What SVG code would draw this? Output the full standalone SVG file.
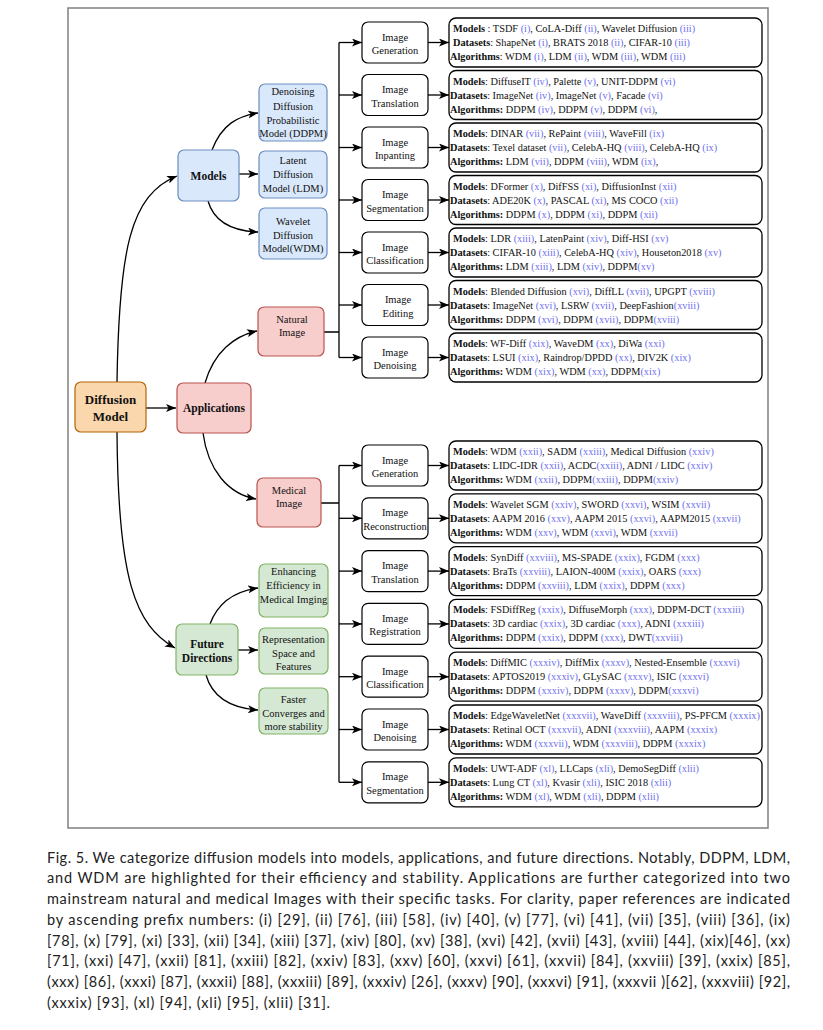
<svg xmlns="http://www.w3.org/2000/svg" width="823" height="1030" viewBox="0 0 823 1030">
<defs>
<marker id="ah" markerUnits="userSpaceOnUse" markerWidth="10" markerHeight="8" refX="10" refY="4" orient="auto">
<path d="M0,0 L10,4 L0,8 L2.5,4 z" fill="#000"/>
</marker>
</defs>
<style>
.frame{fill:none;stroke:#888;stroke-width:1.6}
.det{fill:#fff;stroke:#000;stroke-width:1.3}
.task{fill:#fff;stroke:#000;stroke-width:1.2}
.blue{fill:#dae8fc;stroke:#6c8ebf;stroke-width:1.2}
.pink{fill:#f8cecc;stroke:#b85450;stroke-width:1.2}
.orange{fill:#fad7ac;stroke:#b46504;stroke-width:1.2}
.green{fill:#d5e8d4;stroke:#82b366;stroke-width:1.2}
.t{font-family:"Liberation Serif",serif;font-size:10.3px;fill:#111}
.tk{font-family:"Liberation Serif",serif;font-size:10.5px;fill:#111;text-anchor:middle}
.nb{font-family:"Liberation Serif",serif;font-weight:bold;fill:#111;text-anchor:middle}
.b{font-weight:bold}
.r{fill:#7070ee}
.conn{fill:none;stroke:#000;stroke-width:1.3}
.arr{marker-end:url(#ah)}
.cap{font-family:Lato,"Liberation Sans",sans-serif;font-size:14.5px;fill:#222}
</style>
<rect class="frame" x="68" y="8" width="700" height="820"/>

<g id="connectors">
<path class="conn arr" d="M117,382 C119,250 130,195 177,176"/>
<path class="conn arr" d="M146,408 H176"/>
<path class="conn arr" d="M117,432 C118,580 135,625 175,648"/>
<path class="conn arr" d="M212,150 C222,124 238,116 258,113"/>
<path class="conn arr" d="M239,174 H258"/>
<path class="conn arr" d="M208,201 C214,222 232,231 258,232"/>
<path class="conn arr" d="M205,383 C214,352 234,336 257,331"/>
<path class="conn arr" d="M203,433 C208,470 228,494 256,499"/>
<path class="conn arr" d="M210,624 C218,602 236,591 258,588"/>
<path class="conn arr" d="M238,650 H258"/>
<path class="conn arr" d="M206,675 C212,696 230,708 258,710"/>
<path class="conn" d="M324,332 H339 M339,42.5 V357.5"/>
<path class="conn" d="M321,503 H339 M339,465.5 V782.3"/>
<path class="conn arr" d="M339,42.5 H362"/>
<path class="conn arr" d="M339,95 H362"/>
<path class="conn arr" d="M339,147.5 H362"/>
<path class="conn arr" d="M339,200 H362"/>
<path class="conn arr" d="M339,252.5 H362"/>
<path class="conn arr" d="M339,305 H362"/>
<path class="conn arr" d="M339,357.5 H362"/>
<path class="conn arr" d="M339,465.5 H362"/>
<path class="conn arr" d="M339,518.3 H362"/>
<path class="conn arr" d="M339,571.1 H362"/>
<path class="conn arr" d="M339,623.9 H362"/>
<path class="conn arr" d="M339,676.7 H362"/>
<path class="conn arr" d="M339,729.5 H362"/>
<path class="conn arr" d="M339,782.3 H362"/>
<path class="conn arr" d="M428,42.5 H449"/>
<path class="conn arr" d="M428,95 H449"/>
<path class="conn arr" d="M428,147.5 H449"/>
<path class="conn arr" d="M428,200 H449"/>
<path class="conn arr" d="M428,252.5 H449"/>
<path class="conn arr" d="M428,305 H449"/>
<path class="conn arr" d="M428,357.5 H449"/>
<path class="conn arr" d="M428,465.5 H449"/>
<path class="conn arr" d="M428,518.3 H449"/>
<path class="conn arr" d="M428,571.1 H449"/>
<path class="conn arr" d="M428,623.9 H449"/>
<path class="conn arr" d="M428,676.7 H449"/>
<path class="conn arr" d="M428,729.5 H449"/>
<path class="conn arr" d="M428,782.3 H449"/>
</g>

<g id="diffusion-model">
<rect class="orange" x="75" y="382" width="71" height="50" rx="6"/>
<text class="nb" font-size="13" x="110.5" y="404">Diffusion</text>
<text class="nb" font-size="13" x="110.5" y="420.5">Model</text>
</g>
<g id="models">
<rect class="blue" x="178" y="150" width="61" height="51" rx="6"/>
<text class="nb" font-size="11.5" x="208.5" y="180">Models</text>
</g>
<g id="ddpm">
<rect class="blue" x="259" y="84" width="68" height="57" rx="6"/>
<text class="tk" x="293" y="95">Denoising</text>
<text class="tk" x="293" y="109.5">Diffusion</text>
<text class="tk" x="293" y="123.5">Probabilistic</text>
<text class="tk" x="293" y="137">Model (DDPM)</text>
</g>
<g id="ldm">
<rect class="blue" x="259" y="151" width="68" height="47" rx="6"/>
<text class="tk" x="293" y="164">Latent</text>
<text class="tk" x="293" y="178">Diffusion</text>
<text class="tk" x="293" y="192">Model (LDM)</text>
</g>
<g id="wdm">
<rect class="blue" x="259" y="208" width="68" height="51" rx="6"/>
<text class="tk" x="293" y="225">Wavelet</text>
<text class="tk" x="293" y="238.5">Diffusion</text>
<text class="tk" x="293" y="252">Model(WDM)</text>
</g>
<g id="applications">
<rect class="pink" x="177" y="383" width="74" height="50" rx="6"/>
<text class="nb" font-size="11.5" x="214" y="412">Applications</text>
</g>
<g id="natural-image">
<rect class="pink" x="258" y="307" width="66" height="49" rx="6"/>
<text class="tk" x="292" y="323">Natural</text>
<text class="tk" x="292" y="336">Image</text>
</g>
<g id="medical-image">
<rect class="pink" x="257" y="478" width="64" height="49" rx="6"/>
<text class="tk" x="289" y="494">Medical</text>
<text class="tk" x="289" y="507">Image</text>
</g>
<g id="future-directions">
<rect class="green" x="176" y="624" width="62" height="51" rx="6"/>
<text class="nb" font-size="11.5" x="207" y="648">Future</text>
<text class="nb" font-size="11.5" x="207" y="661.5">Directions</text>
</g>
<g id="enhancing">
<rect class="green" x="259" y="564" width="69" height="53" rx="6"/>
<text class="tk" x="293.5" y="575">Enhancing</text>
<text class="tk" x="293.5" y="589">Efficiency in</text>
<text class="tk" x="293.5" y="603">Medical Imging</text>
</g>
<g id="representation">
<rect class="green" x="259" y="628" width="69" height="46" rx="6"/>
<text class="tk" x="293.5" y="643">Representation</text>
<text class="tk" x="293.5" y="656.5">Space and</text>
<text class="tk" x="293.5" y="670">Features</text>
</g>
<g id="faster">
<rect class="green" x="259" y="688" width="69" height="46" rx="6"/>
<text class="tk" x="293.5" y="703">Faster</text>
<text class="tk" x="293.5" y="716.5">Converges and</text>
<text class="tk" x="293.5" y="730">more stability</text>
</g>

<!-- Natural image tasks -->
<g id="nat-gen">
<rect class="task" x="362" y="22" width="66" height="41" rx="6"/>
<text class="tk" x="395" y="40.5">Image</text><text class="tk" x="395" y="54">Generation</text>
<rect class="det" x="449" y="18" width="313" height="49" rx="7"/>
<text class="t" x="453" y="32"><tspan class="b">Models</tspan> : TSDF <tspan class="r">(i)</tspan>,  CoLA-Diff <tspan class="r">(ii)</tspan>,  Wavelet Diffusion <tspan class="r">(iii)</tspan></text>
<text class="t" x="453" y="46"><tspan class="b">Datasets</tspan>: ShapeNet <tspan class="r">(i)</tspan>, BRATS 2018 <tspan class="r">(ii)</tspan>, CIFAR-10 <tspan class="r">(iii)</tspan></text>
<text class="t" x="450" y="60"><tspan class="b">Algorithms</tspan>: WDM <tspan class="r">(i)</tspan>, LDM <tspan class="r">(ii)</tspan>, WDM <tspan class="r">(iii)</tspan>, WDM <tspan class="r">(iii)</tspan></text>
</g>
<g id="nat-trans">
<rect class="task" x="362" y="74.5" width="66" height="41" rx="6"/>
<text class="tk" x="395" y="93">Image</text><text class="tk" x="395" y="106.5">Translation</text>
<rect class="det" x="449" y="70.5" width="313" height="49" rx="7"/>
<text class="t" x="453" y="84.5"><tspan class="b">Models</tspan>: DiffuseIT <tspan class="r">(iv)</tspan>, Palette <tspan class="r">(v)</tspan>, UNIT-DDPM <tspan class="r">(vi)</tspan></text>
<text class="t" x="450" y="98.5"><tspan class="b">Datasets</tspan>: ImageNet <tspan class="r">(iv)</tspan>, ImageNet <tspan class="r">(v)</tspan>, Facade <tspan class="r">(vi)</tspan></text>
<text class="t" x="450" y="112.5"><tspan class="b">Algorithms:</tspan> DDPM <tspan class="r">(iv)</tspan>, DDPM <tspan class="r">(v)</tspan>, DDPM <tspan class="r">(vi)</tspan>,</text>
</g>
<g id="nat-inpaint">
<rect class="task" x="362" y="127" width="66" height="41" rx="6"/>
<text class="tk" x="395" y="145.5">Image</text><text class="tk" x="395" y="159">Inpanting</text>
<rect class="det" x="449" y="123" width="313" height="49" rx="7"/>
<text class="t" x="453" y="137"><tspan class="b">Models</tspan>: DINAR <tspan class="r">(vii)</tspan>, RePaint <tspan class="r">(viii)</tspan>, WaveFill <tspan class="r">(ix)</tspan></text>
<text class="t" x="450" y="151"><tspan class="b">Datasets</tspan>: Texel dataset <tspan class="r">(vii)</tspan>, CelebA-HQ <tspan class="r">(viii)</tspan>, CelebA-HQ <tspan class="r">(ix)</tspan></text>
<text class="t" x="450" y="165"><tspan class="b">Algorithms:</tspan> LDM <tspan class="r">(vii)</tspan>, DDPM <tspan class="r">(viii)</tspan>, WDM <tspan class="r">(ix)</tspan>,</text>
</g>
<g id="nat-seg">
<rect class="task" x="362" y="179.5" width="66" height="41" rx="6"/>
<text class="tk" x="395" y="198">Image</text><text class="tk" x="395" y="211.5">Segmentation</text>
<rect class="det" x="449" y="175.5" width="313" height="49" rx="7"/>
<text class="t" x="453" y="189.5"><tspan class="b">Models</tspan>: DFormer <tspan class="r">(x)</tspan>, DifFSS <tspan class="r">(xi)</tspan>, DiffusionInst <tspan class="r">(xii)</tspan></text>
<text class="t" x="450" y="203.5"><tspan class="b">Datasets</tspan>: ADE20K <tspan class="r">(x)</tspan>, PASCAL <tspan class="r">(xi)</tspan>, MS COCO <tspan class="r">(xii)</tspan></text>
<text class="t" x="450" y="217.5"><tspan class="b">Algorithms:</tspan> DDPM <tspan class="r">(x)</tspan>, DDPM <tspan class="r">(xi)</tspan>, DDPM <tspan class="r">(xii)</tspan></text>
</g>
<g id="nat-cls">
<rect class="task" x="362" y="232" width="66" height="41" rx="6"/>
<text class="tk" x="395" y="250.5">Image</text><text class="tk" x="395" y="264">Classification</text>
<rect class="det" x="449" y="228" width="313" height="49" rx="7"/>
<text class="t" x="453" y="242"><tspan class="b">Models</tspan>: LDR <tspan class="r">(xiii)</tspan>, LatenPaint <tspan class="r">(xiv)</tspan>, Diff-HSI <tspan class="r">(xv)</tspan></text>
<text class="t" x="450" y="256"><tspan class="b">Datasets</tspan>: CIFAR-10 <tspan class="r">(xiii)</tspan>, CelebA-HQ <tspan class="r">(xiv)</tspan>, Houseton2018 <tspan class="r">(xv)</tspan></text>
<text class="t" x="450" y="270"><tspan class="b">Algorithms:</tspan> LDM <tspan class="r">(xiii)</tspan>, LDM <tspan class="r">(xiv)</tspan>, DDPM<tspan class="r">(xv)</tspan></text>
</g>
<g id="nat-edit">
<rect class="task" x="362" y="284.5" width="66" height="41" rx="6"/>
<text class="tk" x="398" y="303">Image</text><text class="tk" x="398" y="316.5">Editing</text>
<rect class="det" x="449" y="280.5" width="313" height="49" rx="7"/>
<text class="t" x="453" y="294.5"><tspan class="b">Models</tspan>: Blended Diffusion <tspan class="r">(xvi)</tspan>, DiffLL <tspan class="r">(xvii)</tspan>, UPGPT <tspan class="r">(xviii)</tspan></text>
<text class="t" x="450" y="308.5"><tspan class="b">Datasets</tspan>: ImageNet <tspan class="r">(xvi)</tspan>, LSRW <tspan class="r">(xvii)</tspan>, DeepFashion<tspan class="r">(xviii)</tspan></text>
<text class="t" x="450" y="322.5"><tspan class="b">Algorithms:</tspan> DDPM <tspan class="r">(xvi)</tspan>, DDPM <tspan class="r">(xvii)</tspan>, DDPM<tspan class="r">(xviii)</tspan></text>
</g>
<g id="nat-denoise">
<rect class="task" x="362" y="337" width="66" height="41" rx="6"/>
<text class="tk" x="395" y="355.5">Image</text><text class="tk" x="395" y="369">Denoising</text>
<rect class="det" x="449" y="333" width="313" height="49" rx="7"/>
<text class="t" x="453" y="347"><tspan class="b">Models</tspan>: WF-Diff <tspan class="r">(xix)</tspan>, WaveDM <tspan class="r">(xx)</tspan>, DiWa <tspan class="r">(xxi)</tspan></text>
<text class="t" x="450" y="361"><tspan class="b">Datasets</tspan>: LSUI <tspan class="r">(xix)</tspan>, Raindrop/DPDD <tspan class="r">(xx)</tspan>, DIV2K <tspan class="r">(xix)</tspan></text>
<text class="t" x="450" y="375"><tspan class="b">Algorithms:</tspan> WDM <tspan class="r">(xix)</tspan>, WDM <tspan class="r">(xx)</tspan>, DDPM<tspan class="r">(xix)</tspan></text>
</g>

<!-- Medical image tasks -->
<g id="med-gen">
<rect class="task" x="362" y="445" width="66" height="41" rx="6"/>
<text class="tk" x="395" y="463.5">Image</text><text class="tk" x="395" y="477">Generation</text>
<rect class="det" x="449" y="441" width="313" height="49" rx="7"/>
<text class="t" x="453" y="455"><tspan class="b">Models</tspan>: WDM <tspan class="r">(xxii)</tspan>, SADM <tspan class="r">(xxiii)</tspan>, Medical Diffusion <tspan class="r">(xxiv)</tspan></text>
<text class="t" x="450" y="469"><tspan class="b">Datasets</tspan>: LIDC-IDR <tspan class="r">(xxii)</tspan>, ACDC<tspan class="r">(xxiii)</tspan>, ADNI / LIDC <tspan class="r">(xxiv)</tspan></text>
<text class="t" x="450" y="483"><tspan class="b">Algorithms:</tspan> WDM <tspan class="r">(xxii)</tspan>, DDPM<tspan class="r">(xxiii)</tspan>, DDPM<tspan class="r">(xxiv)</tspan></text>
</g>
<g id="med-recon">
<rect class="task" x="362" y="497.8" width="66" height="41" rx="6"/>
<text class="tk" x="395" y="516.3">Image</text><text class="tk" x="395" y="529.8">Reconstruction</text>
<rect class="det" x="449" y="493.8" width="313" height="49" rx="7"/>
<text class="t" x="453" y="507.8"><tspan class="b">Models</tspan>: Wavelet SGM <tspan class="r">(xxiv)</tspan>, SWORD <tspan class="r">(xxvi)</tspan>, WSIM <tspan class="r">(xxvii)</tspan></text>
<text class="t" x="450" y="521.8"><tspan class="b">Datasets</tspan>: AAPM 2016 <tspan class="r">(xxv)</tspan>,  AAPM 2015 <tspan class="r">(xxvi)</tspan>, AAPM2015 <tspan class="r">(xxvii)</tspan></text>
<text class="t" x="450" y="535.8"><tspan class="b">Algorithms:</tspan> WDM <tspan class="r">(xxv)</tspan>, WDM <tspan class="r">(xxvi)</tspan>, WDM <tspan class="r">(xxvii)</tspan></text>
</g>
<g id="med-trans">
<rect class="task" x="362" y="550.6" width="66" height="41" rx="6"/>
<text class="tk" x="395" y="569.1">Image</text><text class="tk" x="395" y="582.6">Translation</text>
<rect class="det" x="449" y="546.6" width="313" height="49" rx="7"/>
<text class="t" x="453" y="560.6"><tspan class="b">Models</tspan>: SynDiff <tspan class="r">(xxviii)</tspan>, MS-SPADE <tspan class="r">(xxix)</tspan>, FGDM <tspan class="r">(xxx)</tspan></text>
<text class="t" x="450" y="574.6"><tspan class="b">Datasets</tspan>: BraTs <tspan class="r">(xxviii)</tspan>, LAION-400M <tspan class="r">(xxix)</tspan>, OARS <tspan class="r">(xxx)</tspan></text>
<text class="t" x="450" y="588.6"><tspan class="b">Algorithms:</tspan> DDPM <tspan class="r">(xxviii)</tspan>, LDM <tspan class="r">(xxix)</tspan>, DDPM <tspan class="r">(xxx)</tspan></text>
</g>
<g id="med-reg">
<rect class="task" x="362" y="603.4" width="66" height="41" rx="6"/>
<text class="tk" x="395" y="621.9">Image</text><text class="tk" x="395" y="635.4">Registration</text>
<rect class="det" x="449" y="599.4" width="313" height="49" rx="7"/>
<text class="t" x="453" y="613.4"><tspan class="b">Models</tspan>: FSDiffReg <tspan class="r">(xxix)</tspan>, DiffuseMorph <tspan class="r">(xxx)</tspan>, DDPM-DCT <tspan class="r">(xxxiii)</tspan></text>
<text class="t" x="450" y="627.4"><tspan class="b">Datasets</tspan>: 3D cardiac <tspan class="r">(xxix)</tspan>, 3D cardiac <tspan class="r">(xxx)</tspan>, ADNI <tspan class="r">(xxxiii)</tspan></text>
<text class="t" x="450" y="641.4"><tspan class="b">Algorithms:</tspan> DDPM <tspan class="r">(xxix)</tspan>, DDPM <tspan class="r">(xxx)</tspan>, DWT<tspan class="r">(xxviii)</tspan></text>
</g>
<g id="med-cls">
<rect class="task" x="362" y="656.2" width="66" height="41" rx="6"/>
<text class="tk" x="395" y="674.7">Image</text><text class="tk" x="395" y="688.2">Classification</text>
<rect class="det" x="449" y="652.2" width="313" height="49" rx="7"/>
<text class="t" x="453" y="666.2"><tspan class="b">Models</tspan>: DiffMIC <tspan class="r">(xxxiv)</tspan>, DiffMix <tspan class="r">(xxxv)</tspan>, Nested-Ensemble <tspan class="r">(xxxvi)</tspan></text>
<text class="t" x="450" y="680.2"><tspan class="b">Datasets</tspan>: APTOS2019 <tspan class="r">(xxxiv)</tspan>, GLySAC <tspan class="r">(xxxv)</tspan>, ISIC <tspan class="r">(xxxvi)</tspan></text>
<text class="t" x="450" y="694.2"><tspan class="b">Algorithms:</tspan> DDPM <tspan class="r">(xxxiv)</tspan>, DDPM <tspan class="r">(xxxv)</tspan>, DDPM<tspan class="r">(xxxvi)</tspan></text>
</g>
<g id="med-denoise">
<rect class="task" x="362" y="709" width="66" height="41" rx="6"/>
<text class="tk" x="395" y="727.5">Image</text><text class="tk" x="395" y="741">Denoising</text>
<rect class="det" x="449" y="705" width="313" height="49" rx="7"/>
<text class="t" x="453" y="719"><tspan class="b">Models</tspan>: EdgeWaveletNet <tspan class="r">(xxxvii)</tspan>, WaveDiff <tspan class="r">(xxxviii)</tspan>, PS-PFCM <tspan class="r">(xxxix)</tspan></text>
<text class="t" x="450" y="733"><tspan class="b">Datasets</tspan>: Retinal OCT <tspan class="r">(xxxvii)</tspan>, ADNI <tspan class="r">(xxxviii)</tspan>, AAPM <tspan class="r">(xxxix)</tspan></text>
<text class="t" x="450" y="747"><tspan class="b">Algorithms:</tspan> WDM <tspan class="r">(xxxvii)</tspan>, WDM <tspan class="r">(xxxviii)</tspan>, DDPM <tspan class="r">(xxxix)</tspan></text>
</g>
<g id="med-seg">
<rect class="task" x="362" y="761.8" width="66" height="41" rx="6"/>
<text class="tk" x="395" y="780.3">Image</text><text class="tk" x="395" y="793.8">Segmentation</text>
<rect class="det" x="449" y="757.8" width="313" height="49" rx="7"/>
<text class="t" x="453" y="771.8"><tspan class="b">Models</tspan>: UWT-ADF <tspan class="r">(xl)</tspan>, LLCaps <tspan class="r">(xli)</tspan>, DemoSegDiff <tspan class="r">(xlii)</tspan></text>
<text class="t" x="450" y="785.8"><tspan class="b">Datasets</tspan>: Lung CT <tspan class="r">(xl)</tspan>, Kvasir <tspan class="r">(xli)</tspan>, ISIC 2018 <tspan class="r">(xlii)</tspan></text>
<text class="t" x="450" y="799.8"><tspan class="b">Algorithms:</tspan> WDM <tspan class="r">(xl)</tspan>, WDM <tspan class="r">(xli)</tspan>, DDPM <tspan class="r">(xlii)</tspan></text>
</g>

<g id="caption">
<text class="cap" x="47" y="862.7" textLength="743" lengthAdjust="spacing">Fig. 5.  We categorize diffusion models into models, applications, and future directions. Notably, DDPM, LDM,</text>
<text class="cap" x="47" y="883.4" textLength="743" lengthAdjust="spacing">and WDM are highlighted for their efficiency and stability. Applications are further categorized into two</text>
<text class="cap" x="47" y="904.1" textLength="743" lengthAdjust="spacing">mainstream natural and medical Images with their specific tasks. For clarity, paper references are indicated</text>
<text class="cap" x="47" y="924.8" textLength="743" lengthAdjust="spacing">by ascending prefix numbers: (i) [29], (ii) [76], (iii) [58], (iv) [40], (v) [77], (vi) [41], (vii) [35], (viii) [36], (ix)</text>
<text class="cap" x="47" y="945.5" textLength="743" lengthAdjust="spacing">[78], (x) [79], (xi) [33], (xii) [34], (xiii) [37], (xiv) [80], (xv) [38], (xvi) [42], (xvii) [43], (xviii) [44], (xix)[46], (xx)</text>
<text class="cap" x="47" y="966.2" textLength="743" lengthAdjust="spacing">[71], (xxi) [47], (xxii) [81], (xxiii) [82], (xxiv) [83], (xxv) [60], (xxvi) [61], (xxvii) [84], (xxviii) [39], (xxix) [85],</text>
<text class="cap" x="47" y="986.9" textLength="743" lengthAdjust="spacing">(xxx) [86], (xxxi) [87], (xxxii) [88], (xxxiii) [89], (xxxiv) [26], (xxxv) [90], (xxxvi) [91], (xxxvii )[62], (xxxviii) [92],</text>
<text class="cap" x="47" y="1007.6" textLength="283" lengthAdjust="spacing">(xxxix) [93], (xl) [94], (xli) [95], (xlii) [31].</text>
</g>
</svg>
